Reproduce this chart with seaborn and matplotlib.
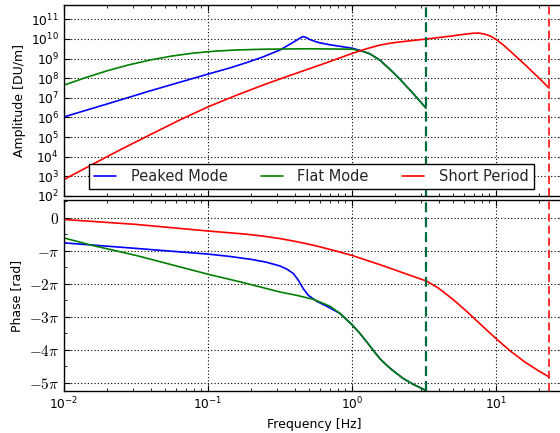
import numpy as np
import pandas as pd
import matplotlib
matplotlib.use("Agg")
import matplotlib.pyplot as plt
import seaborn as sns
from matplotlib.ticker import LogLocator, NullLocator, FixedLocator, FixedFormatter, MultipleLocator

# ---------------- data ----------------
# amplitude panel: log10(frequency [Hz]) and log10(amplitude [DU/m])
peaked_amp_logf = [-2.0, -1.7, -1.4, -1.194, -1.0, -0.85, -0.73, -0.62, -0.5, -0.42,
                   -0.37, -0.342, -0.32, -0.292, -0.25, -0.222, -0.15, -0.106, 0.0, 0.056,
                   0.125, 0.194, 0.264, 0.333, 0.426, 0.514]
peaked_amp_log = [6.03, 6.69, 7.36, 7.80, 8.21, 8.52, 8.80, 9.08, 9.44, 9.78,
                  10.0, 10.12, 10.08, 9.97, 9.86, 9.80, 9.70, 9.65, 9.53, 9.42,
                  9.24, 8.92, 8.45, 7.95, 7.21, 6.48]

flat_amp_logf = [-2.0, -1.85, -1.7, -1.55, -1.4, -1.25, -1.1, -0.95, -0.8, -0.6, -0.3,
                 0.0, 0.067, 0.125, 0.194, 0.264, 0.333, 0.426, 0.514]
flat_amp_log = [7.65, 8.03, 8.38, 8.68, 8.93, 9.13, 9.28, 9.38, 9.44, 9.48, 9.50,
                9.48, 9.39, 9.24, 8.92, 8.45, 7.95, 7.21, 6.48]

short_amp_logf = [-2.0, -1.8, -1.6, -1.4, -1.2, -1.0, -0.8, -0.6, -0.4, -0.2, 0.0, 0.1,
                  0.2, 0.3, 0.42, 0.52, 0.68, 0.78, 0.84, 0.88, 0.92, 0.96, 1.0, 1.05,
                  1.1, 1.2, 1.3, 1.368]
short_amp_log = [2.84, 3.62, 4.39, 5.13, 5.86, 6.54, 7.14, 7.70, 8.22, 8.73, 9.26, 9.50,
                 9.70, 9.82, 9.92, 10.0, 10.14, 10.24, 10.29, 10.30, 10.25, 10.15, 9.98, 9.70,
                 9.37, 8.70, 8.0, 7.5]

# phase panel: log10(frequency [Hz]) and phase in multiples of pi
peaked_ph_logf = [-2.0, -1.52, -1.0, -0.85, -0.7, -0.6, -0.5, -0.45, -0.407, -0.373,
                  -0.338, -0.303, -0.245, -0.176, -0.083, 0.0, 0.056, 0.102, 0.148, 0.194,
                  0.241, 0.287, 0.356, 0.426, 0.512]
peaked_ph_pi = [-0.76, -0.92, -1.10, -1.17, -1.26, -1.34, -1.46, -1.56, -1.69, -1.89,
                -2.15, -2.35, -2.53, -2.68, -2.90, -3.24, -3.51, -3.76, -4.02, -4.27,
                -4.47, -4.64, -4.87, -5.05, -5.23]

flat_ph_logf = [-2.0, -1.8, -1.5, -1.0, -0.75, -0.5, -0.384, -0.269, -0.153, -0.083, 0.0,
                0.056, 0.102, 0.148, 0.194, 0.241, 0.287, 0.356, 0.426, 0.512]
flat_ph_pi = [-0.61, -0.84, -1.14, -1.71, -1.97, -2.25, -2.35, -2.47, -2.68, -2.90, -3.24,
              -3.51, -3.76, -4.02, -4.27, -4.47, -4.64, -4.87, -5.05, -5.23]

short_ph_logf = [-2.0, -1.5, -1.0, -0.75, -0.625, -0.5, -0.375, -0.25, -0.125, 0.0, 0.2,
                 0.35, 0.519, 0.6, 0.7, 0.8, 0.9, 1.0, 1.1, 1.2, 1.3, 1.368]
short_ph_pi = [-0.05, -0.20, -0.40, -0.49, -0.55, -0.63, -0.73, -0.85, -0.99, -1.14, -1.43,
               -1.66, -1.92, -2.13, -2.47, -2.85, -3.26, -3.66, -4.04, -4.37, -4.65, -4.82]

# vertical dashed markers (Hz)
flat_limit_hz = 3.27
short_limit_hz = 23.4

labels = ["Peaked Mode", "Flat Mode", "Short Period"]
colors = ["#0000ff", "#008000", "#ff0000"]
phase_tick_labels = [r"$0$", r"$-\pi$", r"$-2\pi$", r"$-3\pi$", r"$-4\pi$", r"$-5\pi$"]

# ---------------- style ----------------
sns.set_style("ticks")
plt.rcParams.update({
    "font.family": ["DejaVu Sans"],
    "font.size": 8.8,
    "mathtext.fontset": "cm",
    "axes.edgecolor": "black",
    "axes.linewidth": 1.0,
    "axes.labelcolor": "black",
    "xtick.color": "black",
    "ytick.color": "black",
    "xtick.direction": "in",
    "ytick.direction": "in",
    "xtick.top": True,
    "ytick.right": True,
    "xtick.bottom": True,
    "ytick.left": True,
    "xtick.major.size": 4,
    "ytick.major.size": 4,
    "xtick.minor.size": 2,
    "ytick.minor.size": 2,
    "xtick.minor.visible": True,
    "xtick.labelsize": 8.8,
    "ytick.labelsize": 8.8,
    "axes.labelsize": 9,
})

fig = plt.figure(figsize=(5.6, 4.33), dpi=100)
left, width = 64 / 560, 500.7 / 560
ax1 = fig.add_axes([left, (433 - 196) / 433, width, 191 / 433])
ax2 = fig.add_axes([left, (433 - 391) / 433, width, 191 / 433], sharex=ax1)

for ax in (ax1, ax2):
    ax.set_xscale("log")

ax1.set_yscale("log")

amp_sets = [(peaked_amp_logf, peaked_amp_log), (flat_amp_logf, flat_amp_log),
            (short_amp_logf, short_amp_log)]
ph_sets = [(peaked_ph_logf, peaked_ph_pi), (flat_ph_logf, flat_ph_pi),
           (short_ph_logf, short_ph_pi)]

for (lf, la), lab, c in zip(amp_sets, labels, colors):
    df = pd.DataFrame({"f": 10 ** np.asarray(lf), "a": 10 ** np.asarray(la)})
    sns.lineplot(data=df, x="f", y="a", ax=ax1, color=c, lw=1.2, label=lab,
                 estimator=None, sort=False)

for (lf, lp), lab, c in zip(ph_sets, labels, colors):
    df = pd.DataFrame({"f": 10 ** np.asarray(lf), "p": np.asarray(lp) * np.pi})
    sns.lineplot(data=df, x="f", y="p", ax=ax2, color=c, lw=1.2, legend=False,
                 estimator=None, sort=False)

for ax in (ax1, ax2):
    ax.axvline(flat_limit_hz, color="#006b3c", ls="--", lw=1.6, dashes=(4.5, 2.2))
    ax.axvline(short_limit_hz, color="#ff2020", ls="--", lw=1.3, dashes=(4.5, 2.2))
    ax.grid(True, which="major", color="black", linestyle=(0, (1, 2)), linewidth=0.8)
    ax.set_xlim(0.01, 30)

ax1.set_ylim(1e2, 10 ** 11.73)
ax1.yaxis.set_major_locator(LogLocator(base=10, numticks=20))
ax1.yaxis.set_minor_locator(NullLocator())
ax1.tick_params(axis="x", labelbottom=False)
ax1.set_xlabel("")
ax1.set_ylabel("Amplitude [DU/m]")

ax2.set_ylim(-5.25 * np.pi, 0.54 * np.pi)
ax2.yaxis.set_major_locator(FixedLocator([-k * np.pi for k in range(6)]))
ax2.yaxis.set_major_formatter(FixedFormatter(phase_tick_labels))
ax2.yaxis.set_minor_locator(MultipleLocator(np.pi / 2))
ax2.tick_params(axis="y", labelsize=11)
ax2.set_xlabel("Frequency [Hz]")
ax2.set_ylabel("Phase [rad]")

leg = ax1.legend(loc="lower center", bbox_to_anchor=(0.494, 0.037), ncol=3,
                 fontsize=10.5, handlelength=1.5, handletextpad=1.0,
                 columnspacing=2.3, borderaxespad=0, fancybox=False,
                 frameon=True, framealpha=1, borderpad=0.35)
leg.get_frame().set_edgecolor("black")
leg.get_frame().set_linewidth(1.0)

fig.savefig("out.png", dpi=100, facecolor="white")
